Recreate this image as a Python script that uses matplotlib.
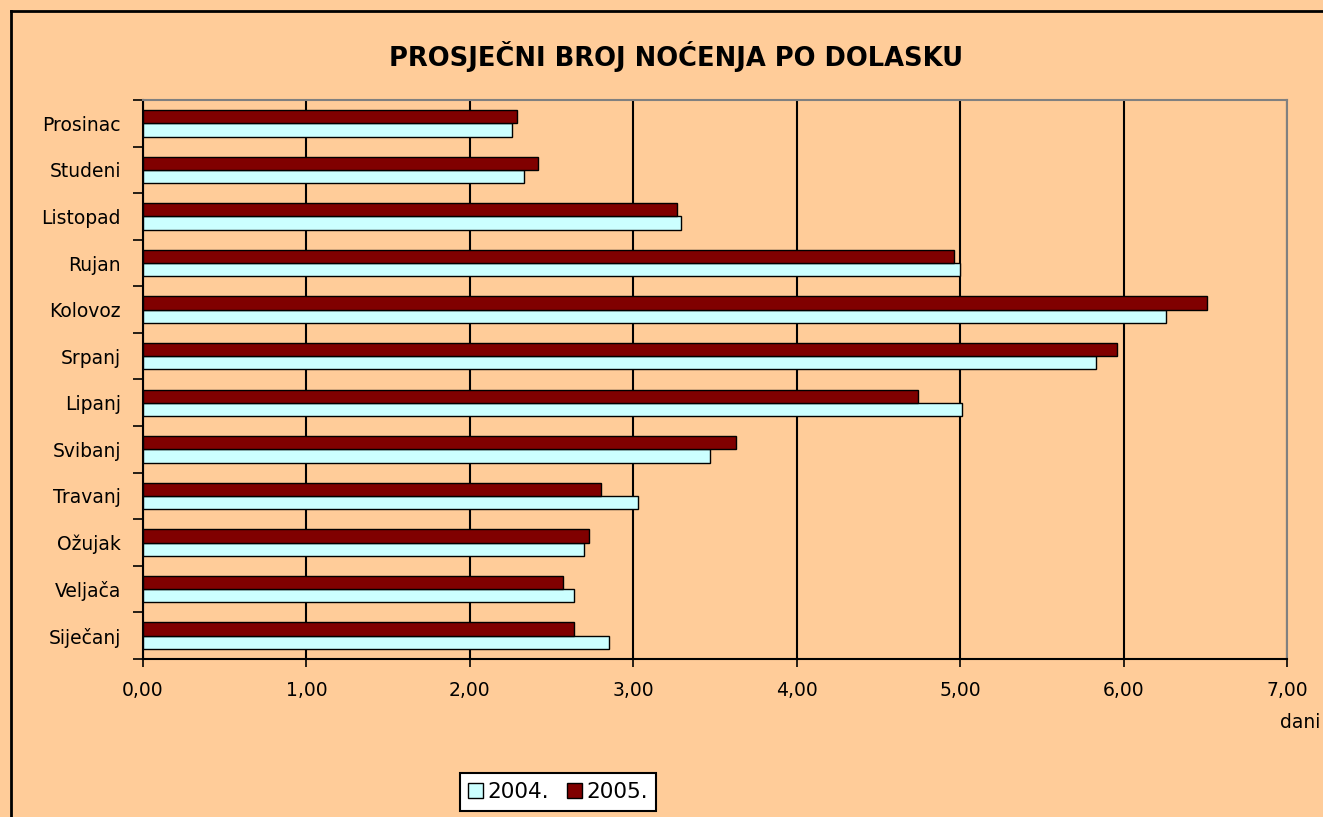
import matplotlib.pyplot as plt
import numpy as np
from matplotlib.lines import Line2D
from matplotlib.patches import Patch

# podaci - prosjecni broj nocenja po dolasku
mjeseci = ['Siječanj', 'Veljača', 'Ožujak', 'Travanj', 'Svibanj', 'Lipanj',
           'Srpanj', 'Kolovoz', 'Rujan', 'Listopad', 'Studeni', 'Prosinac']
god_2004 = [2.85, 2.64, 2.70, 3.03, 3.47, 5.01, 5.83, 6.26, 5.00, 3.29, 2.33, 2.26]
god_2005 = [2.64, 2.57, 2.73, 2.80, 3.63, 4.74, 5.96, 6.51, 4.96, 3.27, 2.42, 2.29]
x_ticks = [0, 1, 2, 3, 4, 5, 6, 7]

bg = '#FFCC99'
plt.rcParams['font.family'] = ['DejaVu Sans']

fig = plt.figure(figsize=(13.23, 8.17), dpi=100, facecolor=bg)
ax = fig.add_axes([143/1323, 1 - 659/817, 1144/1323, 559/817])
ax.set_facecolor(bg)

y = np.arange(len(mjeseci))
h = 0.285
ax.barh(y - h/2, god_2004, height=h, color='#CCFFFF', edgecolor='black', linewidth=1, zorder=3)
ax.barh(y + h/2, god_2005, height=h, color='#800000', edgecolor='black', linewidth=1, zorder=3)

ax.set_xlim(0, 7)
ax.set_ylim(-0.5, len(mjeseci) - 0.5)
ax.set_xticks(x_ticks)
ax.set_xticklabels([f'{v:.2f}'.replace('.', ',') for v in x_ticks], fontsize=13.5)
ax.set_yticks(y)
ax.set_yticklabels(mjeseci, fontsize=13.5)
ax.set_yticks(np.arange(-0.5, len(mjeseci)), minor=True)
ax.tick_params(axis='y', which='major', length=0, pad=16)
ax.tick_params(axis='y', which='minor', length=7, width=1.2, color='black')
ax.tick_params(axis='x', length=6, width=1.2, pad=10)
ax.xaxis.grid(True, color='black', linewidth=1.5, zorder=1)
ax.set_axisbelow(True)

ax.spines['left'].set_color('black')
ax.spines['bottom'].set_color('black')
ax.spines['top'].set_color('#808080')
ax.spines['right'].set_color('#808080')
for s in ax.spines.values():
    s.set_linewidth(1.5)

fig.text(676/1323, 1 - 57/817, 'PROSJEČNI BROJ NOĆENJA PO DOLASKU',
         ha='center', va='center', fontsize=18.5, fontweight='bold')
fig.text(1300/1323, 1 - 722/817, 'dani', ha='center', va='center', fontsize=13.5)

# okvir
fig.add_artist(Line2D([10.5/1323, 10.5/1323], [0, 1 - 10.5/817], color='black', linewidth=2))
fig.add_artist(Line2D([10.5/1323, 1], [1 - 10.5/817, 1 - 10.5/817], color='black', linewidth=2))

handles = [Patch(facecolor='#CCFFFF', edgecolor='black', label='2004.'),
           Patch(facecolor='#800000', edgecolor='black', label='2005.')]
leg = fig.legend(handles=handles, loc='center', bbox_to_anchor=(558/1323, 1 - 792/817),
                 ncol=2, fontsize=15.5, frameon=True, fancybox=False, framealpha=1,
                 edgecolor='black', handlelength=0.7, handleheight=0.7,
                 handletextpad=0.2, columnspacing=0.8, borderpad=0.4)
leg.get_frame().set_linewidth(1.5)

fig.savefig('out.png', dpi=100, facecolor=bg)
